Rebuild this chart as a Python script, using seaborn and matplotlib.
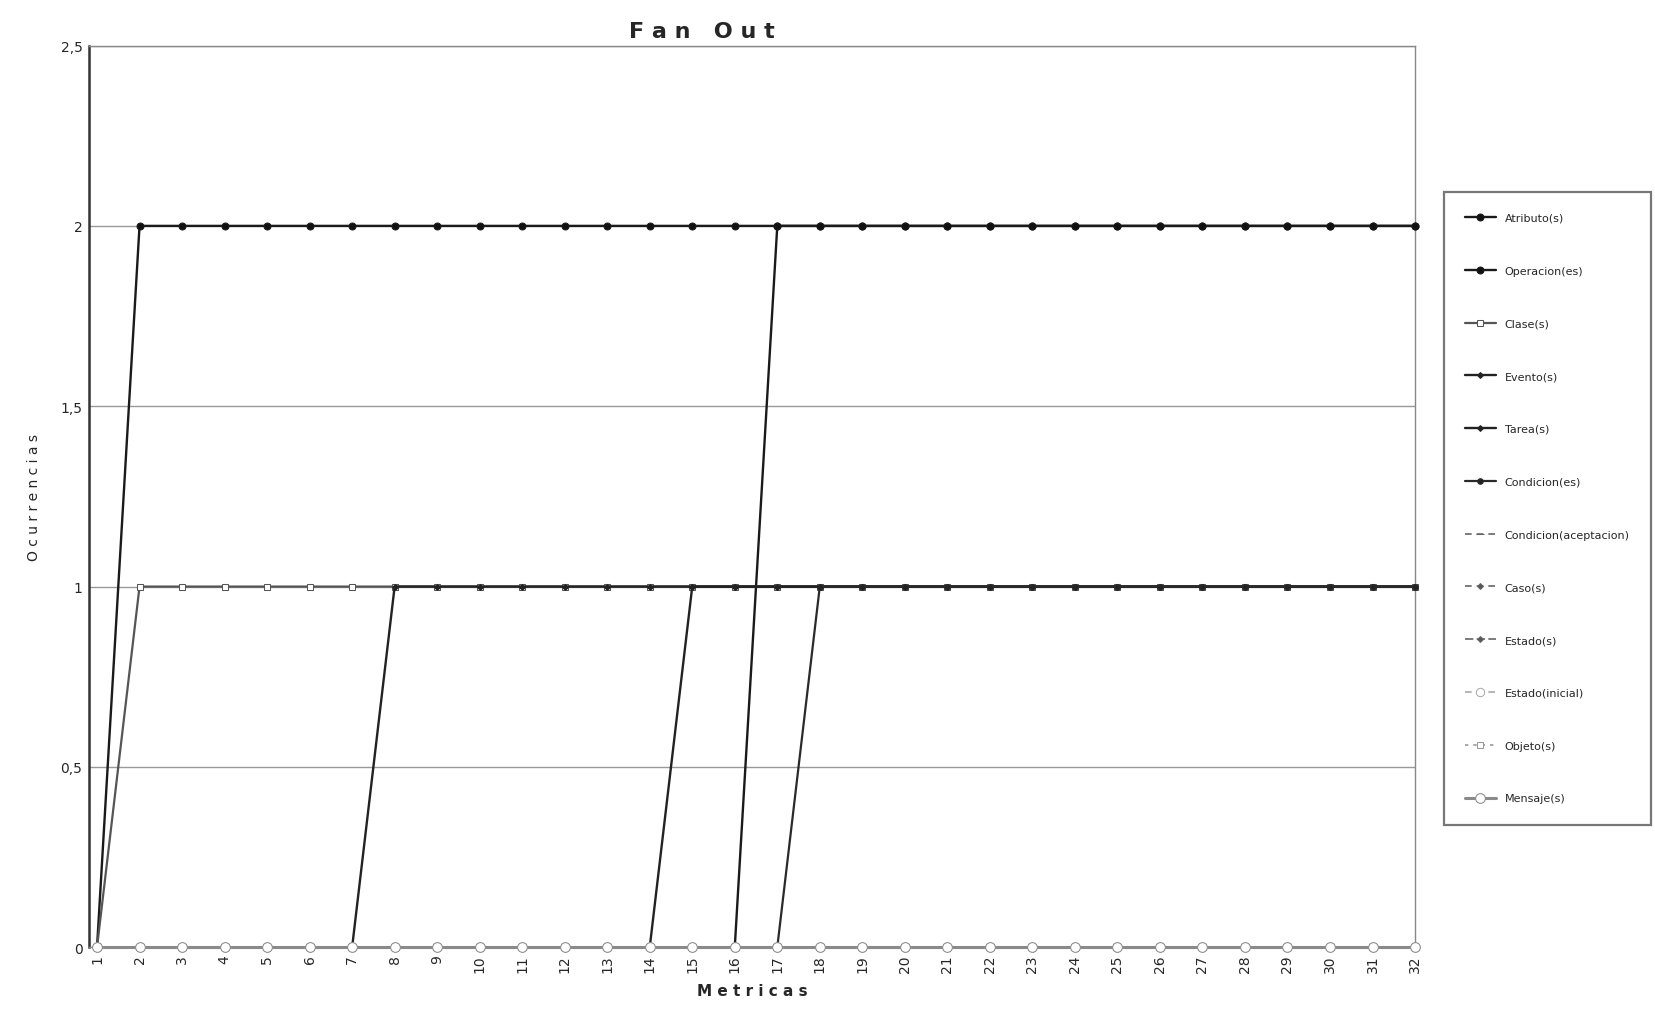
import matplotlib
matplotlib.use("Agg")
import matplotlib.pyplot as plt
import seaborn as sns
import pandas as pd

metricas = list(range(1, 33))

serie_labels = ["Atributo(s)", "Operacion(es)", "Clase(s)", "Evento(s)", "Tarea(s)",
                "Condicion(es)", "Condicion(aceptacion)", "Caso(s)", "Estado(s)",
                "Estado(inicial)", "Objeto(s)", "Mensaje(s)"]

atributo    = [0, 2, 2, 2, 2, 2, 2, 2, 2, 2, 2, 2, 2, 2, 2, 2, 2, 2, 2, 2, 2, 2, 2, 2, 2, 2, 2, 2, 2, 2, 2, 2]
operacion   = [0, 0, 0, 0, 0, 0, 0, 0, 0, 0, 0, 0, 0, 0, 0, 0, 2, 2, 2, 2, 2, 2, 2, 2, 2, 2, 2, 2, 2, 2, 2, 2]
clase       = [0, 1, 1, 1, 1, 1, 1, 1, 1, 1, 1, 1, 1, 1, 1, 1, 1, 1, 1, 1, 1, 1, 1, 1, 1, 1, 1, 1, 1, 1, 1, 1]
evento      = [0, 0, 0, 0, 0, 0, 0, 1, 1, 1, 1, 1, 1, 1, 1, 1, 1, 1, 1, 1, 1, 1, 1, 1, 1, 1, 1, 1, 1, 1, 1, 1]
tarea       = [0, 0, 0, 0, 0, 0, 0, 0, 0, 0, 0, 0, 0, 0, 1, 1, 1, 1, 1, 1, 1, 1, 1, 1, 1, 1, 1, 1, 1, 1, 1, 1]
condicion   = [0, 0, 0, 0, 0, 0, 0, 0, 0, 0, 0, 0, 0, 0, 0, 0, 0, 1, 1, 1, 1, 1, 1, 1, 1, 1, 1, 1, 1, 1, 1, 1]
cond_acept  = [0, 0, 0, 0, 0, 0, 0, 0, 0, 0, 0, 0, 0, 0, 0, 0, 0, 0, 0, 0, 0, 0, 0, 0, 0, 0, 0, 0, 0, 0, 0, 0]
caso        = [0, 0, 0, 0, 0, 0, 0, 0, 0, 0, 0, 0, 0, 0, 0, 0, 0, 0, 0, 0, 0, 0, 0, 0, 0, 0, 0, 0, 0, 0, 0, 0]
estado      = [0, 0, 0, 0, 0, 0, 0, 0, 0, 0, 0, 0, 0, 0, 0, 0, 0, 0, 0, 0, 0, 0, 0, 0, 0, 0, 0, 0, 0, 0, 0, 0]
estado_ini  = [0, 0, 0, 0, 0, 0, 0, 0, 0, 0, 0, 0, 0, 0, 0, 0, 0, 0, 0, 0, 0, 0, 0, 0, 0, 0, 0, 0, 0, 0, 0, 0]
objeto      = [0, 0, 0, 0, 0, 0, 0, 0, 0, 0, 0, 0, 0, 0, 0, 0, 0, 0, 0, 0, 0, 0, 0, 0, 0, 0, 0, 0, 0, 0, 0, 0]
mensaje     = [0, 0, 0, 0, 0, 0, 0, 0, 0, 0, 0, 0, 0, 0, 0, 0, 0, 0, 0, 0, 0, 0, 0, 0, 0, 0, 0, 0, 0, 0, 0, 0]

series_vals = [atributo, operacion, clase, evento, tarea, condicion, cond_acept,
               caso, estado, estado_ini, objeto, mensaje]

y_ticks = [0, 0.5, 1, 1.5, 2, 2.5]
y_ticklabels = ["0", "0,5", "1", "1,5", "2", "2,5"]

styles = [
    dict(color="#1a1a1a", marker="o", ls="-", mfc="#111111", ms=5, lw=1.7),
    dict(color="#1a1a1a", marker="o", ls="-", mfc="#111111", ms=5, lw=1.7),
    dict(color="#555555", marker="s", ls="-", mfc="white", ms=5, lw=1.6),
    dict(color="#222222", marker="D", ls="-", mfc="#222222", ms=3, lw=1.7),
    dict(color="#222222", marker="D", ls="-", mfc="#222222", ms=3, lw=1.7),
    dict(color="#2a2a2a", marker="o", ls="-", mfc="#222222", ms=4, lw=1.6),
    dict(color="#666666", marker="_", ls=(0, (4, 3)), mfc="#666666", ms=6, lw=1.2),
    dict(color="#666666", marker="D", ls=(0, (4, 3)), mfc="#555555", ms=3, lw=1.2),
    dict(color="#666666", marker="D", ls=(0, (5, 2)), mfc="#555555", ms=3, lw=1.2),
    dict(color="#aaaaaa", marker="o", ls=(0, (4, 3)), mfc="white", ms=6, lw=1.2),
    dict(color="#999999", marker="s", ls=(0, (2, 3)), mfc="white", ms=5, lw=1.2),
    dict(color="#8a8a8a", marker="o", ls="-", mfc="white", ms=7, lw=2.2),
]

sns.set_theme(style="white")
plt.rcParams['font.family'] = ['DejaVu Sans']

fig = plt.figure(figsize=(16.55, 10.12), dpi=100)
ax = fig.add_axes([0.054, 0.063, 0.801, 0.891])

for i in range(len(series_vals)):
    df = pd.DataFrame({"Metricas": metricas, "Ocurrencias": series_vals[i]})
    st = styles[i]
    sns.lineplot(data=df, x="Metricas", y="Ocurrencias", ax=ax, color=st["color"],
                 marker=st["marker"], markersize=st["ms"], markerfacecolor=st["mfc"],
                 markeredgecolor=st["color"], linestyle=st["ls"], linewidth=st["lw"],
                 label=serie_labels[i], zorder=3 + i * 0.1, clip_on=False)

ax.set_xlim(0.82, 32)
ax.set_ylim(0, 2.5)
ax.set_yticks(y_ticks)
ax.set_yticklabels(y_ticklabels, fontsize=10)
ax.set_xticks(metricas)
ax.set_xticklabels([str(m) for m in metricas], rotation=90, fontsize=10)
ax.grid(axis="y", color="#999999", lw=1.0)
ax.grid(axis="x", visible=False)
for s in ax.spines.values():
    s.set_color("#888888")
    s.set_linewidth(1.0)
ax.spines["left"].set_color("#333333")
ax.spines["left"].set_linewidth(1.8)
ax.tick_params(axis="both", length=0, pad=5)

ax.set_title("F a n   O u t", fontsize=16, fontweight="bold", pad=6, x=0.462)
ax.set_xlabel("M e t r i c a s", fontsize=11, fontweight="bold", labelpad=8, x=0.5)
ax.set_ylabel("O c u r r e n c i a s", fontsize=10, labelpad=14)

h, l = ax.get_legend_handles_labels()
order = [l.index(lbl) for lbl in serie_labels]
leg = ax.legend([h[k] for k in order], [l[k] for k in order],
                loc="upper left", bbox_to_anchor=(0.869, 0.815), bbox_transform=fig.transFigure,
                fontsize=8, labelspacing=3.85, handlelength=2.8, frameon=True,
                fancybox=False, edgecolor="#555555", borderpad=1.9)
leg.get_frame().set_linewidth(1.6)

fig.savefig("out.png", dpi=100, facecolor="white")
